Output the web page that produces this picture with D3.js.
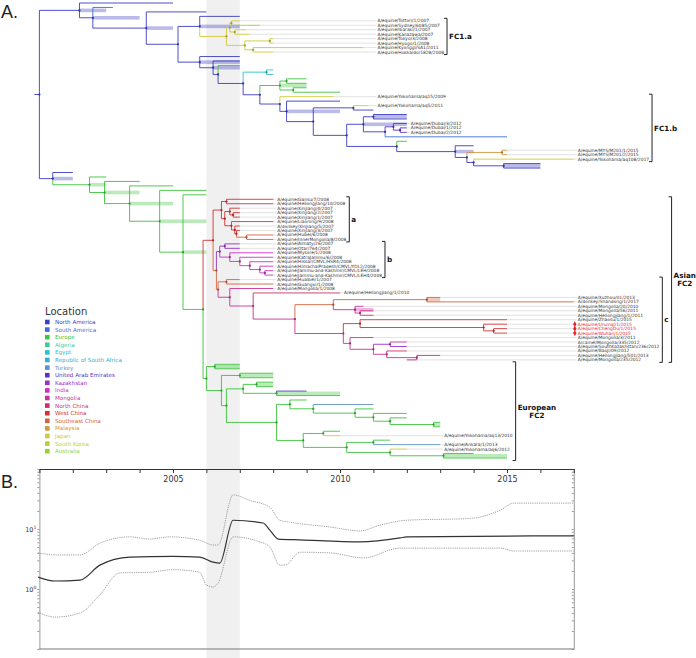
<!DOCTYPE html>
<html>
<head>
<meta charset="utf-8">
<script src="https://cdn.jsdelivr.net/npm/d3@7"></script>
<style>
  body { margin: 0; background: #fff; }
  svg { font-family: "DejaVu Sans", Verdana, sans-serif; }
</style>
</head>
<body>
<svg id="chart" width="696" height="658"></svg>
<script>
// ---- locations (legend) ----
const locations = ["North America", "South America", "Europe", "Algeria", "Egypt", "Republic of South Africa",
  "Turkey", "United Arab Emirates", "Kazakhstan", "India", "Mongolia", "North China", "West China",
  "Southeast China", "Malaysia", "Japan", "South Korea", "Australia"];
const locCodes = ["NA", "SA", "EU", "ALG", "EGY", "RSA", "TUR", "UAE", "KAZ", "IND", "MON", "NCH", "WCH",
  "SECH", "MAL", "JPN", "KOR", "AUS"];
const locColors = ["#3c3cc4", "#3f6fd6", "#3cc43c", "#3cc8a0", "#28c4d2", "#30b0d0", "#5a94c8", "#5a32c8",
  "#9632c8", "#c832c8", "#c83296", "#c83264", "#d23232", "#d2643c", "#d2963c", "#d2c83c", "#b4d232", "#96d232"];

// ---- tree: [id, parent, year, location, label, hpdLow, hpdHigh] ----
const basalNodes = [
  ["root", "", 2001.0, "NA"],
  ["t1", "root", 2002.2, "NA", "", 2002.2, 2003.0],
  ["a1", "t1", 2005.0, "NA"],
  ["t2", "t1", 2002.6, "NA", "", 2002.6, 2004.0],
  ["a2", "t2", 2003.2, "SA"],
  ["t4", "t2", 2004.2, "NA", "", 2004.2, 2005.0],
  ["a4", "t4", 2006.0, "NA"],
  ["fc1", "t4", 2005.15, "NA"],
  ["gr0", "root", 2001.4, "NA", "", 2001.4, 2002.0],
  ["na1", "gr0", 2002.0, "NA"]
];
const fc1aNodes = [
  ["u1", "fc1", 2005.8, "NA", "", 2005.8, 2007.0],
  ["b2", "u1", 2007.0, "NA"],
  ["fa0", "u1", 2006.6, "JPN"],
  ["fa1", "fa0", 2006.7, "JPN"],
  ["fa2", "fa1", 2006.75, "JPN"],
  ["Tottori", "fa2", 2007.0, "JPN", "A/equine/Tottori/1/2007"],
  ["Sydney", "fa2", 2007.6, "AUS", "A/equine/Sydney/6085/2007"],
  ["fa3", "fa1", 2006.85, "JPN"],
  ["Ibaraki", "fa3", 2007.2, "JPN", "A/equine/Ibaraki/1/2007"],
  ["Kanazawa", "fa3", 2007.3, "JPN", "A/equine/Kanazawa/2007"],
  ["fa4", "fa0", 2007.15, "JPN"],
  ["fa5", "fa4", 2007.9, "JPN"],
  ["Tokyo", "fa5", 2008.0, "JPN", "A/equine/Tokyo/3/2008"],
  ["Hyogo", "fa5", 2008.0, "JPN", "A/equine/Hyogo/1/2008"],
  ["fa6", "fa4", 2007.4, "JPN"],
  ["Kyonggi", "fa6", 2010.7, "KOR", "A/equine/Kyonggi/SA1/2011"],
  ["Hokkaido", "fa6", 2008.0, "JPN", "A/equine/Hokkaido/1828/2008"]
];
const fc1bNodes = [
  ["l1", "fc1", 2005.8, "NA", "", 2005.8, 2007.0],
  ["c1", "l1", 2007.0, "NA"],
  ["l2", "l1", 2006.2, "NA", "", 2006.2, 2007.0],
  ["c2", "l2", 2007.0, "NA"],
  ["l3", "l2", 2006.35, "NA"],
  ["c3", "l3", 2007.0, "EU"],
  ["l5", "l3", 2007.1, "NA"],
  ["cy", "l5", 2007.8, "EGY"],
  ["c5", "cy", 2008.0, "EGY"],
  ["c6", "cy", 2008.0, "RSA"],
  ["l6", "l5", 2007.6, "NA"],
  ["ge", "l6", 2008.2, "EU", "", 2008.2, 2009.0],
  ["ge1", "ge", 2008.4, "EU"],
  ["c7", "ge1", 2009.0, "EU"],
  ["c8", "ge1", 2009.0, "EU"],
  ["ge2", "ge", 2008.6, "EU"],
  ["c9", "ge2", 2009.0, "EU"],
  ["c11", "ge2", 2010.0, "EU"],
  ["l8", "l6", 2008.2, "NA"],
  ["aq15", "l8", 2009.8, "JPN", "A/equine/Yokohama/aq15/2009"],
  ["l9", "l8", 2008.4, "NA", "", 2008.4, 2010.0],
  ["c12", "l9", 2010.0, "NA"],
  ["l10", "l9", 2009.2, "NA"],
  ["l12", "l10", 2010.4, "NA"],
  ["aq5", "l12", 2010.85, "JPN", "A/equine/Yokohama/aq5/2011"],
  ["c13", "l12", 2011.0, "NA"],
  ["e0", "l10", 2010.2, "NA"],
  ["d0", "e0", 2010.7, "NA", "", 2010.7, 2012.0],
  ["d1", "d0", 2011.0, "NA", "", 2011.0, 2012.0],
  ["c14", "d1", 2012.0, "NA"],
  ["c15", "d1", 2012.0, "NA"],
  ["d2", "d0", 2011.35, "NA"],
  ["d3", "d2", 2011.6, "UAE"],
  ["Dubai3", "d3", 2012.0, "UAE", "A/equine/Dubai/3/2012"],
  ["d4", "d3", 2011.8, "UAE"],
  ["Dubai1", "d4", 2012.0, "UAE", "A/equine/Dubai/1/2012"],
  ["Dubai2", "d4", 2012.0, "UAE", "A/equine/Dubai/2/2012"],
  ["c16", "d2", 2015.0, "SA"],
  ["e1", "e0", 2011.7, "NA"],
  ["c17", "e1", 2012.0, "EU"],
  ["e2", "e1", 2013.45, "NA", "", 2013.45, 2014.0],
  ["c18", "e2", 2014.0, "NA"],
  ["e3", "e2", 2013.8, "NA"],
  ["m0", "e3", 2014.85, "MAL"],
  ["MYS1", "m0", 2015.0, "MAL", "A/equine/MYS/M201/1/2015"],
  ["MYS2", "m0", 2015.0, "MAL", "A/equine/MYS/M201/2/2015"],
  ["e4", "e3", 2014.0, "NA"],
  ["aq108", "e4", 2017.0, "JPN", "A/equine/Yokohama/aq108/2017"],
  ["e5", "e4", 2014.9, "NA", "", 2014.9, 2016.0],
  ["c19", "e5", 2016.0, "NA"],
  ["c20", "e5", 2016.0, "NA"]
];
const greenNodes = [
  ["gf0", "gr0", 2002.5, "EU", "", 2002.5, 2003.0],
  ["g1", "gf0", 2003.0, "EU"],
  ["gf2", "gf0", 2002.95, "EU", "", 2002.95, 2004.0],
  ["g3", "gf2", 2004.0, "EU"],
  ["gf3", "gf2", 2003.7, "EU", "", 2003.7, 2005.0],
  ["g5", "gf3", 2005.0, "EU"],
  ["gf5", "gf3", 2004.6, "EU", "", 2004.6, 2006.0],
  ["g9", "gf5", 2006.0, "EU"],
  ["gf7", "gf5", 2005.3, "EU", "", 2005.3, 2006.0],
  ["g12", "gf7", 2006.0, "EU"],
  ["fc2", "gf7", 2005.9, "EU"]
];
const asianNodes = [
  ["asia", "fc2", 2006.2, "WCH"],
  ["ca", "asia", 2006.45, "WCH"],
  ["ca1", "ca", 2006.6, "WCH"],
  ["Gansu", "ca1", 2008.0, "WCH", "A/equine/Gansu/7/2008"],
  ["Heilong10", "ca1", 2008.0, "NCH", "A/equine/Heilongjiang/10/2008"],
  ["ca2", "ca", 2006.55, "WCH"],
  ["ca3", "ca2", 2006.7, "WCH"],
  ["Xj4", "ca3", 2007.0, "WCH", "A/equine/Xinjiang/4/2007"],
  ["ca4", "ca3", 2006.8, "WCH"],
  ["Xj2", "ca4", 2007.0, "WCH", "A/equine/Xinjiang/2/2007"],
  ["Xj1", "ca4", 2007.0, "WCH", "A/equine/Xinjiang/1/2007"],
  ["ca5", "ca2", 2006.75, "WCH"],
  ["Liaoning", "ca5", 2008.0, "NCH", "A/equine/Liaoning/9/2008"],
  ["ca6", "ca5", 2006.85, "WCH"],
  ["Xj5", "ca6", 2007.0, "WCH", "A/donkey/Xinjiang/5/2007"],
  ["ca7", "ca6", 2006.9, "WCH"],
  ["Xj3", "ca7", 2007.0, "WCH", "A/equine/Xinjiang/3/2007"],
  ["ca8", "ca7", 2007.2, "SECH"],
  ["Hubei", "ca8", 2008.0, "SECH", "A/equine/Hubei/6/2008"],
  ["InnerMong", "ca8", 2008.0, "SECH", "A/equine/InnerMongolia/8/2008"],
  ["ab", "asia", 2006.3, "SECH"],
  ["cb", "ab", 2006.4, "KAZ"],
  ["cb1", "cb", 2006.55, "KAZ"],
  ["Almaty", "cb1", 2007.0, "KAZ", "A/equine/Almaty/26/2007"],
  ["Otar", "cb1", 2007.0, "KAZ", "A/equine/Otar/764/2007"],
  ["cb2", "cb", 2006.7, "IND"],
  ["Mysore", "cb2", 2008.0, "IND", "A/equine/Mysore/1/2008"],
  ["cb3", "cb2", 2007.0, "IND"],
  ["Katra", "cb3", 2008.0, "IND", "A/equine/KatraJammu/6/2008"],
  ["cb4", "cb3", 2007.3, "IND"],
  ["Hissar", "cb4", 2008.0, "IND", "A/equine/Hissar/CMVL/HSR4/2008"],
  ["cb5", "cb4", 2007.6, "IND"],
  ["Himachal", "cb5", 2008.0, "IND", "A/equine/HimachalPradesh/CMVL/YDL2/2008"],
  ["cb6", "cb5", 2007.75, "IND"],
  ["Leh", "cb6", 2008.0, "IND", "A/equine/Jammu-and-Kashmir/CMVL/LEH/2008"],
  ["Leh4", "cb6", 2008.0, "IND", "A/equine/Jammu-and-Kashmir/CMVL/LEH4/2008"],
  ["ac", "ab", 2006.35, "SECH"],
  ["ac1", "ac", 2006.6, "SECH"],
  ["Huaibei", "ac1", 2007.0, "SECH", "A/equine/Huaibei/1/2007"],
  ["Guangxi", "ac1", 2008.0, "SECH", "A/equine/Guangxi/1/2008"],
  ["ac2", "ac", 2006.7, "MON"],
  ["Mong1", "ac2", 2008.0, "MON", "A/equine/Mongolia/1/2008"],
  ["ac3", "ac2", 2007.4, "MON"],
  ["Heilong1", "ac3", 2010.0, "NCH", "A/equine/Heilongjiang/1/2010"],
  ["cc", "ac3", 2008.65, "MON"],
  ["cc1", "cc", 2009.8, "SECH"],
  ["cc2", "cc1", 2012.6, "SECH", "", 2012.6, 2013.0],
  ["Xuzhou", "cc2", 2013.0, "SECH", "A/equine/Xuzhou/01/2013"],
  ["Shandong", "cc2", 2017.0, "SECH", "A/donkey/Shandong/1/2017"],
  ["cc3", "cc1", 2010.45, "MON", "", 2010.45, 2011.0],
  ["Mong20", "cc3", 2010.7, "MON", "A/equine/Mongolia/20/2010"],
  ["cc4", "cc3", 2010.6, "MON"],
  ["Mong56", "cc4", 2011.0, "MON", "A/equine/Mongolia/56/2011"],
  ["Heilong2011", "cc4", 2011.0, "NCH", "A/equine/Heilongjiang/1/2011"],
  ["cc6", "cc", 2010.1, "MON"],
  ["cc7", "cc6", 2010.6, "WCH"],
  ["Zhaosu", "cc7", 2015.0, "WCH", "A/equine/Zhaosu/1/2015"],
  ["cc8", "cc7", 2014.3, "WCH"],
  ["Urumqi", "cc8", 2015.0, "WCH", "A/equine/Urumqi/1/2015"],
  ["cc9", "cc8", 2014.6, "WCH"],
  ["ChengDu", "cc9", 2015.0, "WCH", "A/equine/ChengDu/1/2015"],
  ["Wuhan", "cc9", 2015.0, "WCH", "A/equine/Wuhan/1/2015"],
  ["cc10", "cc6", 2010.3, "MON"],
  ["Mong3", "cc10", 2011.0, "MON", "A/equine/Mongolia/3/2011"],
  ["cc11", "cc10", 2011.0, "MON"],
  ["cc12", "cc11", 2011.5, "KAZ"],
  ["camel", "cc12", 2012.0, "MON", "A/camel/Mongolia/335/2012"],
  ["SKaz", "cc12", 2012.0, "KAZ", "A/equine/SouthKazakhstan/236/2012"],
  ["cc13", "cc11", 2011.4, "MON"],
  ["Baoji", "cc13", 2012.0, "NCH", "A/equine/Baoji/09/2012"],
  ["cc14", "cc13", 2012.3, "MON"],
  ["H501", "cc14", 2013.0, "NCH", "A/equine/Heilongjiang/501/2013"],
  ["Mong235", "cc14", 2012.0, "MON", "A/equine/Mongolia/235/2012"]
];
const europeanNodes = [
  ["euro", "fc2", 2006.0, "EU"],
  ["eu1", "euro", 2006.25, "EU", "", 2006.25, 2007.0],
  ["ee1", "eu1", 2007.0, "EU"],
  ["ee2", "eu1", 2007.0, "EU"],
  ["eu2", "euro", 2006.45, "EU"],
  ["eu3", "eu2", 2007.0, "EU", "", 2007.0, 2008.0],
  ["ee4", "eu3", 2008.0, "EU"],
  ["ee5", "eu3", 2008.0, "EU"],
  ["eu4", "eu2", 2006.6, "EU"],
  ["eu5", "eu4", 2007.1, "EU"],
  ["eu5a", "eu5", 2007.5, "EU", "", 2007.5, 2008.0],
  ["ee7", "eu5a", 2008.0, "EU"],
  ["ee8", "eu5a", 2008.0, "EU"],
  ["eu6", "eu5", 2008.1, "EU", "", 2008.1, 2010.0],
  ["ee9", "eu6", 2009.0, "UAE"],
  ["ee10", "eu6", 2010.0, "EU"],
  ["eu7", "eu4", 2008.1, "EU"],
  ["eu8", "eu7", 2008.5, "EU"],
  ["ee11", "eu8", 2009.0, "EU"],
  ["eu10", "eu8", 2009.2, "EU"],
  ["ee13", "eu10", 2011.0, "TUR"],
  ["eu12", "eu10", 2010.45, "EU"],
  ["ee15", "eu12", 2011.0, "EU"],
  ["eu13", "eu12", 2011.0, "EU"],
  ["ee16", "eu13", 2012.0, "EU"],
  ["eu14", "eu13", 2011.5, "EU"],
  ["ee17", "eu14", 2012.0, "EU"],
  ["eu15", "eu14", 2012.8, "EU", "", 2012.8, 2013.0],
  ["ee18", "eu15", 2013.0, "EU"],
  ["ee19", "eu15", 2013.0, "EU"],
  ["eu16", "eu7", 2008.9, "EU"],
  ["eu17", "eu16", 2009.5, "EU"],
  ["ee20", "eu17", 2010.0, "EU"],
  ["aq13", "eu17", 2010.0, "JPN", "A/equine/Yokohama/aq13/2010"],
  ["eu19", "eu16", 2010.2, "EU"],
  ["eu20", "eu19", 2011.0, "EU"],
  ["ee22", "eu20", 2011.5, "EU"],
  ["Ankara", "eu20", 2013.0, "TUR", "A/equine/Ankara/1/2013"],
  ["eu21", "eu19", 2011.5, "EU"],
  ["aq6", "eu21", 2012.0, "JPN", "A/equine/Yokohama/aq6/2012"],
  ["eu22", "eu21", 2013.1, "EU", "", 2013.1, 2015.0],
  ["ee23", "eu22", 2014.0, "EU"],
  ["ee25", "eu22", 2015.0, "EU"]
];

// tips whose labels share one column
const labelGroups = [
  ["Tottori", "Sydney", "Ibaraki", "Kanazawa", "Tokyo", "Hyogo", "Kyonggi", "Hokkaido"],
  ["aq15", "aq5"],
  ["Dubai3", "Dubai1", "Dubai2"],
  ["MYS1", "MYS2", "aq108"],
  ["Gansu", "Heilong10", "Xj4", "Xj2", "Xj1", "Liaoning", "Xj5", "Xj3", "Hubei", "InnerMong"],
  ["Almaty", "Otar", "Mysore", "Katra", "Hissar", "Himachal", "Leh", "Leh4", "Huaibei", "Guangxi", "Mong1"],
  ["Heilong1"],
  ["Xuzhou", "Shandong", "Mong20", "Mong56", "Heilong2011", "Zhaosu", "Urumqi", "ChengDu", "Wuhan",
   "Mong3", "camel", "SKaz", "Baoji", "H501", "Mong235"],
  ["aq13", "Ankara", "aq6"]
];
const newIsolates = ["Urumqi", "ChengDu", "Wuhan"];

// clade brackets
const bracketText = [["FC1.a"], ["FC1.b"], ["a"], ["b"], ["c"], ["Asian", "FC2"], ["European", "FC2"]];
const bracketFirst = ["Tottori", "aq15", "Gansu", "Almaty", "Huaibei", "Gansu", "ee1"];
const bracketLast = ["Hokkaido", "aq108", "InnerMong", "Leh4", "Mong235", "Mong235", "ee25"];

// ---- panel B: effective population size ----
const medianYears = [2000.96, 2001.47, 2002.22, 2002.81, 2003.71, 2005.0, 2005.8, 2006.2, 2006.4, 2006.8,
  2007.7, 2007.9, 2008.15, 2008.8, 2010.6, 2011.8, 2012.0, 2017.0];
const medianValues = [1.58, 1.36, 1.41, 2.5, 3.4, 3.5, 3.4, 2.8, 2.7, 14, 12.6, 9.6, 6.8, 6.6, 6.1, 7.1, 7.4, 7.7];
const upperYears = [2000.96, 2001.5, 2002.22, 2002.81, 2003.71, 2004.3, 2004.9, 2005.8, 2006.2, 2006.35, 2006.8,
  2007.3, 2007.9, 2008.2, 2008.5, 2009.7, 2010.6, 2011.2, 2012.0, 2013.9, 2014.8, 2015.2, 2017.0];
const upperValues = [4.0, 3.7, 3.7, 5.8, 7.4, 6.8, 7.4, 6.5, 5.4, 5.4, 37, 30, 23, 14, 13, 10.8, 9.3, 11.6, 14, 15,
  20.7, 27, 27];
const lowerYears = [2000.96, 2001.47, 2002.22, 2002.81, 2003.4, 2004.3, 2005.0, 2005.8, 2006.0, 2006.2, 2006.35,
  2006.8, 2007.6, 2007.9, 2008.2, 2008.35, 2008.8, 2009.7, 2010.7, 2011.8, 2014.8, 2015.2, 2017.0];
const lowerValues = [0.41, 0.34, 0.40, 0.8, 1.85, 1.9, 2.1, 1.9, 1.17, 1.08, 1.26, 7.4, 6.1, 5.0, 2.5, 2.5, 4.1,
  4.0, 3.3, 4.8, 4.8, 4.3, 4.3];
const yearTicks = d3.range(2001, 2018);
const yearLabels = [2005, 2010, 2015];
const shadeYears = [2006, 2007];

// ---------------------------------------------------------------
const svg = d3.select("#chart");
const colorOf = code => locColors[locCodes.indexOf(code)];

const x = d3.scaleLinear().domain([2001, 2017]).range([39.4, 573.8]);

const rows = [].concat(basalNodes, fc1aNodes, fc1bNodes, greenNodes, asianNodes, europeanNodes)
  .map(r => ({id: r[0], parentId: r[1], year: r[2], loc: r[3], label: r[4] || "", lo: r[5], hi: r[6]}));
const root = d3.stratify().id(d => d.id).parentId(d => d.parentId)(rows);
const leaves = root.leaves();
const yTip = d3.scaleLinear().domain([0, leaves.length - 1]).range([3, 458]);
leaves.forEach((d, i) => { d.idx = i; });
root.eachAfter(n => {
  if (!n.children) n.py = yTip(n.idx);
  else n.py = (n.children[0].py + n.children[n.children.length - 1].py) / 2;
});
const byId = new Map(root.descendants().map(d => [d.id, d]));

// shaded period
svg.append("rect")
  .attr("x", x(shadeYears[0])).attr("width", x(shadeYears[1]) - x(shadeYears[0]))
  .attr("y", 0).attr("height", 658).attr("fill", "#f0f0f0");

const tree = svg.append("g");

// node age bars
tree.selectAll("rect.hpd")
  .data(root.descendants().filter(d => d.data.lo != null))
  .enter().append("rect")
  .attr("class", "hpd")
  .attr("x", d => x(d.data.lo))
  .attr("width", d => x(d.data.hi) - x(d.data.lo))
  .attr("y", d => d.py - 1.8).attr("height", 3.6)
  .attr("fill", d => colorOf(d.data.loc)).attr("opacity", 0.35);

// label column per group
const labelX = new Map();
labelGroups.forEach(grp => {
  const maxYear = d3.max(grp, id => +byId.get(id).data.label.split("/").pop());
  grp.forEach(id => labelX.set(id, x(maxYear) + 4));
});
const labelled = leaves.filter(d => d.data.label);

// connector lines
tree.selectAll("line.conn")
  .data(labelled)
  .enter().append("line")
  .attr("x1", d => x(d.data.year)).attr("x2", d => labelX.get(d.id) - 1)
  .attr("y1", d => d.py).attr("y2", d => d.py)
  .attr("stroke", "#cfcfcf").attr("stroke-width", 0.6);

// branches
tree.selectAll("path.branch")
  .data(root.descendants().slice(1))
  .enter().append("path")
  .attr("d", d => `M${x(d.parent.data.year)},${d.parent.py}V${d.py}H${x(d.data.year)}`)
  .attr("fill", "none")
  .attr("stroke", d => colorOf(d.data.loc))
  .attr("stroke-width", 0.9);
tree.append("line")
  .attr("x1", x(root.data.year) - 5).attr("x2", x(root.data.year))
  .attr("y1", root.py).attr("y2", root.py)
  .attr("stroke", colorOf(root.data.loc)).attr("stroke-width", 0.9);

// internal nodes
tree.selectAll("circle.node")
  .data(root.descendants().filter(d => d.children))
  .enter().append("circle")
  .attr("cx", d => x(d.data.year)).attr("cy", d => d.py).attr("r", 1.1)
  .attr("fill", d => d3.color(colorOf(d.data.loc)).darker(0.7));

// tip labels
const labelW = new Map();
tree.selectAll("text.tip")
  .data(labelled)
  .enter().append("text")
  .attr("x", d => labelX.get(d.id)).attr("y", d => d.py + 1.5)
  .attr("font-size", 4.4)
  .attr("fill", d => newIsolates.includes(d.id) ? "#e8202a" : "#333")
  .text(d => d.data.label)
  .each(function(d) { labelW.set(d.id, this.getComputedTextLength()); });

tree.selectAll("path.diamond")
  .data(labelled.filter(d => newIsolates.includes(d.id)))
  .enter().append("path")
  .attr("d", d3.symbol(d3.symbolDiamond, 10))
  .attr("transform", d => `translate(${labelX.get(d.id) - 3},${d.py})`)
  .attr("fill", "#e8202a");

// brackets
const bInfo = bracketText.map((t, i) => {
  const a = byId.get(bracketFirst[i]).idx, b = byId.get(bracketLast[i]).idx;
  const inside = labelled.filter(d => d.idx >= a && d.idx <= b);
  const ext = d3.max(inside, d => labelX.get(d.id) + labelW.get(d.id));
  return {i, a, b, text: t, x: ext + 3};
});
bInfo.slice().sort((p, q) => (p.b - p.a) - (q.b - q.a)).forEach(br => {
  bInfo.forEach(o => {
    if (o !== br && o.a >= br.a && o.b <= br.b && (o.b - o.a) < (br.b - br.a) && o.w != null) {
      br.x = Math.max(br.x, o.x + o.w + 5);
    }
  });
  const y0 = yTip(br.a) - 2.5, y1 = yTip(br.b) + 2.5;
  const g = svg.append("g");
  g.append("path")
    .attr("d", `M${br.x - 3},${y0}H${br.x}V${y1}H${br.x - 3}`)
    .attr("fill", "none").attr("stroke", "#222").attr("stroke-width", 1);
  const t = g.append("text")
    .attr("font-size", 7.2).attr("font-weight", "bold").attr("fill", "#111")
    .attr("text-anchor", "middle");
  br.text.forEach((s, k) => {
    t.append("tspan").attr("x", 0).attr("y", (k - (br.text.length - 1) / 2) * 8.5 + 2.6).text(s);
  });
  br.w = t.node().getBBox().width;
  t.attr("transform", `translate(${br.x + 2 + br.w / 2},${(y0 + y1) / 2})`);
});

// legend
const legend = svg.append("g");
legend.append("text").attr("x", 45).attr("y", 315).attr("font-size", 10).attr("fill", "#333").text("Location");
const item = legend.selectAll("g.item").data(locations).enter().append("g")
  .attr("transform", (d, i) => `translate(45,${322 + i * 7.6})`);
item.append("rect").attr("x", 0).attr("y", -2.3).attr("width", 4.6).attr("height", 4.6)
  .attr("fill", (d, i) => locColors[i]);
item.append("text").attr("x", 10).attr("y", 2).attr("font-size", 5.6)
  .attr("fill", (d, i) => locColors[i]).text(d => d);

// panel letters
svg.append("text").attr("x", 1).attr("y", 18).attr("font-family", "Liberation Sans, Arial, sans-serif")
  .attr("font-size", 18).attr("fill", "#222").text("A.");
svg.append("text").attr("x", 1).attr("y", 488).attr("font-family", "Liberation Sans, Arial, sans-serif")
  .attr("font-size", 18).attr("fill", "#222").text("B.");

// ---- panel B ----
const yB = d3.scaleLog().domain([0.1, 100]).range([649, 469]);
const pB = svg.append("g");
const minorTicks = [];
[0.1, 1, 10].forEach(dec => d3.range(1, 10).forEach(k => minorTicks.push(dec * k)));
minorTicks.push(100);

pB.append("g").attr("transform", `translate(${x(2001)},0)`)
  .call(d3.axisLeft(yB).tickValues(minorTicks).tickSize(2).tickFormat("").tickSizeOuter(0))
  .call(g => g.selectAll("line,path").attr("stroke", "#999"));
pB.append("g").attr("transform", `translate(${x(2017)},0)`)
  .call(d3.axisLeft(yB).tickValues(minorTicks).tickSize(2).tickFormat("").tickSizeOuter(0))
  .call(g => g.selectAll("line,path").attr("stroke", "#999"));
pB.append("line").attr("x1", x(2001)).attr("x2", x(2017)).attr("y1", yB(0.1)).attr("y2", yB(0.1))
  .attr("stroke", "#777").attr("stroke-width", 1.2);
pB.append("g").attr("transform", `translate(0,${yB(100)})`)
  .call(d3.axisBottom(x).tickValues(yearTicks).tickSize(4).tickSizeOuter(0)
    .tickFormat(d => yearLabels.includes(d) ? d : ""))
  .call(g => g.selectAll("line,path").attr("stroke", "#333"))
  .call(g => g.selectAll("text").attr("font-size", 8).attr("fill", "#333")
    .attr("font-family", "DejaVu Sans, sans-serif"));

[1, 10].forEach((v, i) => {
  const t = pB.append("text").attr("x", x(2001) - 3).attr("y", yB(v) + 2.5)
    .attr("text-anchor", "end").attr("font-size", 6.5).attr("fill", "#333");
  t.append("tspan").text("10");
  t.append("tspan").attr("font-size", 4.5).attr("dy", -3).text(i);
});

const lineB = d3.line().x(d => x(d[0])).y(d => yB(d[1])).curve(d3.curveMonotoneX);
pB.append("path").datum(d3.zip(upperYears, upperValues)).attr("d", lineB)
  .attr("fill", "none").attr("stroke", "#888").attr("stroke-width", 0.8).attr("stroke-dasharray", "1.2,1");
pB.append("path").datum(d3.zip(lowerYears, lowerValues)).attr("d", lineB)
  .attr("fill", "none").attr("stroke", "#888").attr("stroke-width", 0.8).attr("stroke-dasharray", "1.2,1");
pB.append("path").datum(d3.zip(medianYears, medianValues)).attr("d", lineB)
  .attr("fill", "none").attr("stroke", "#333").attr("stroke-width", 1.2);
</script>
</body>
</html>
